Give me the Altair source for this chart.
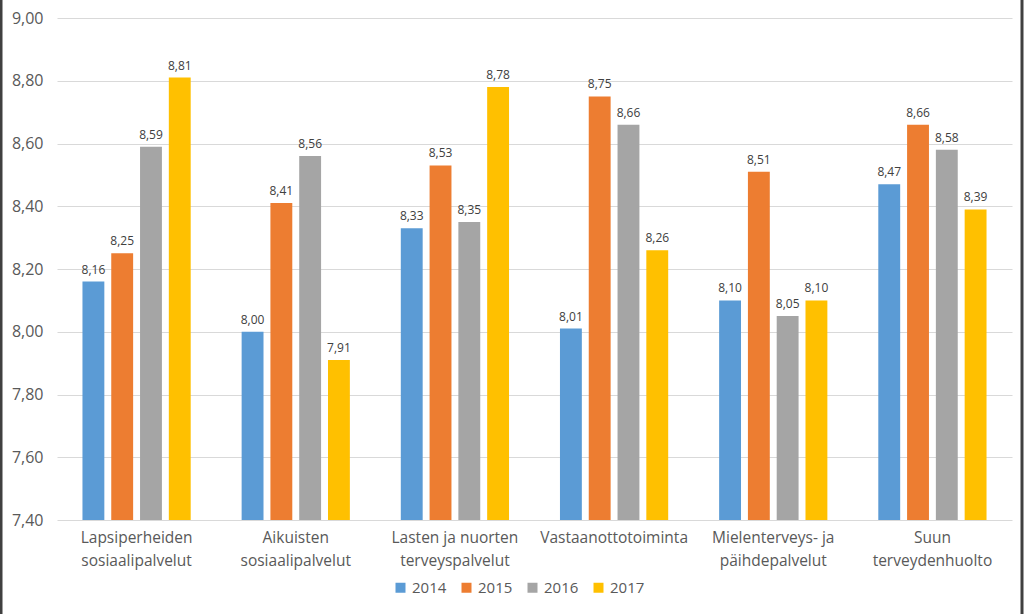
import altair as alt
import pandas as pd

categories = [
    "Lapsiperheiden|sosiaalipalvelut",
    "Aikuisten|sosiaalipalvelut",
    "Lasten ja nuorten|terveyspalvelut",
    "Vastaanottotoiminta",
    "Mielenterveys- ja|päihdepalvelut",
    "Suun|terveydenhuolto",
]
years = ["2014", "2015", "2016", "2017"]
v2014 = [8.16, 8.00, 8.33, 8.01, 8.10, 8.47]
v2015 = [8.25, 8.41, 8.53, 8.75, 8.51, 8.66]
v2016 = [8.59, 8.56, 8.35, 8.66, 8.05, 8.58]
v2017 = [8.81, 7.91, 8.78, 8.26, 8.10, 8.39]
y_ticks = [7.4, 7.6, 7.8, 8.0, 8.2, 8.4, 8.6, 8.8, 9.0]
colors = ["#5B9BD5", "#ED7D31", "#A5A5A5", "#FFC000"]

rows = []
for y, vals in zip(years, [v2014, v2015, v2016, v2017]):
    for c, v in zip(categories, vals):
        rows.append({"cat": c, "year": y, "value": v,
                     "label": f"{v:.2f}".replace(".", ",")})
df = pd.DataFrame(rows)

W, H = 955, 502
FONT = "Open Sans"

yscale = alt.Scale(domain=[7.4, 9.0], zero=False, nice=False)
yaxis = alt.Axis(values=y_ticks,
                 labelExpr="replace(format(datum.value, '.2f'), '.', ',')",
                 labelFontSize=16, labelColor="#595959", labelFont=FONT,
                 labelPadding=14, ticks=False, domain=False,
                 gridColor="#D9D9D9", gridWidth=1)

base = alt.Chart(df).encode(
    x=alt.X("cat:N", sort=categories, title=None,
            scale=alt.Scale(paddingInner=0.32, paddingOuter=0.16),
            axis=alt.Axis(labelExpr="split(datum.label, '|')", labelAngle=0,
                          labelFontSize=15.5, labelColor="#595959", labelFont=FONT,
                          labelLineHeight=23, labelPadding=10, ticks=False,
                          domain=False, grid=False, labelBaseline="top")),
    xOffset=alt.XOffset("year:N", sort=years,
                        scale=alt.Scale(paddingInner=0.24, paddingOuter=0)),
)

bars = base.mark_bar().encode(
    y=alt.Y("value:Q", title=None, scale=yscale, axis=yaxis),
    y2=alt.datum(7.4),
    color=alt.Color("year:N", sort=years, title=None,
                    scale=alt.Scale(domain=years, range=colors),
                    legend=alt.Legend(orient="none", direction="horizontal",
                                      legendX=336, legendY=562,
                                      symbolType="square", symbolSize=100,
                                      symbolStrokeWidth=0,
                                      labelFontSize=15, labelFont=FONT,
                                      labelColor="#595959", columnPadding=12,
                                      labelOffset=4, symbolOpacity=1)),
)

texts = base.mark_text(baseline="bottom", dy=-5, fontSize=12, font=FONT,
                       color="#404040").encode(
    y=alt.Y("value:Q", title=None, scale=yscale, axis=yaxis),
    text="label:N",
)

left = alt.Chart(pd.DataFrame({"a": [0]})).mark_rule(color="#404040", strokeWidth=3).encode(
    x=alt.value(-56), y=alt.value(-18), y2=alt.value(H + 94))
right = alt.Chart(pd.DataFrame({"a": [0]})).mark_rule(color="#404040", strokeWidth=3).encode(
    x=alt.value(W + 10), y=alt.value(-18), y2=alt.value(H + 94))

chart = alt.layer(bars, texts, left, right).properties(
    width=W, height=H,
    autosize=alt.AutoSizeParams(type="none"),
    padding={"left": 57, "top": 18, "right": 12, "bottom": 94},
    background="white",
).configure_view(stroke=None).configure_axis(domain=False, ticks=False)

chart.save("out.html", embed_options={"renderer": "svg", "actions": False})
